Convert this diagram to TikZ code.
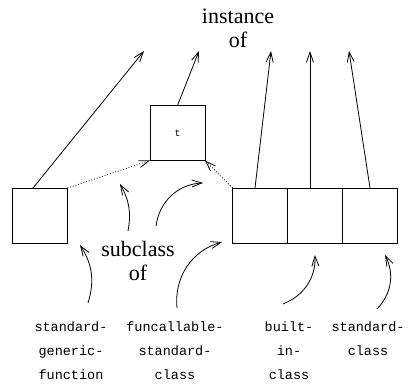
\documentclass[tikz,border=0pt]{standalone}
\usepackage{fontspec}
\setmainfont{Liberation Serif}
\setmonofont{Liberation Mono}
\usetikzlibrary{positioning,arrows.meta}

\begin{document}
\begin{tikzpicture}[%
			x=1pt, y=-1pt,
			line width=0.8pt,
			>={Straight Barb[length=10pt,width=7pt]},
			classbox/.style={%
				minimum width=55pt,
				minimum height=55pt,
				inner sep=0pt,
				outer sep=0pt,
				draw
			},
			big/.style={font=\fontsize{22}{24}\selectfont, align=center, anchor=base},
			cname/.style={font=\ttfamily\fontsize{13.5}{24}\selectfont, align=center, anchor=base}
			]
			\useasboundingbox (0,0) rectangle (409,385);

			% the classes
			\node[classbox] (gf) at (40,215.5) {};
			\node[classbox] (t) at (177.5,133) {\ttfamily\fontsize{10}{12}\selectfont t};
			\node[classbox] (fsc) at (260,215.5) {};
			\node[classbox, right=0pt of fsc] (bic) {};
			\node[classbox, right=0pt of bic] (sc) {};

			% base is the last line
			\node[big] (inst) at (238,48) {instance\\of};
			\node[big] (sub) at (138,280) {subclass\\of};

			\node[cname] (lgf) at (71,379) {standard-\\generic-\\function};
			\node[cname] (lfsc) at (175,379) {funcallable-\\standard-\\class};
			\node[cname] (lbic) at (289,379) {built-\\in-\\class};
			\node[cname] (lsc) at (368,355) {standard-\\class};

			% instance of
			\coordinate (i1) at (144,51);
			\coordinate (i2) at (199,51);
			\coordinate (i3) at (271,51);
			\coordinate (i4) at (310,51);
			\coordinate (i5) at (349,51);
			\draw[->] ([xshift=-7pt]gf.north) -- (i1);
			\draw[->] (t.north) -- (i2);
			\draw[->] ([xshift=-5pt]fsc.north) -- (i3);
			\draw[->] ([xshift=-5pt]bic.north) -- (i4);
			\draw[->] (sc.north) -- (i5);

			% subclass of
			\draw[->, dotted] (gf.north east) -- (t.south west);
			\draw[->, dotted] (fsc.north west) -- (t.south east);

			\coordinate (s1) at (88,303);   \coordinate (e1) at (80,245);
			\coordinate (s2) at (128,231);  \coordinate (e2) at (120,184);
			\coordinate (s3) at (156,226);  \coordinate (e3) at (203,183);
			\coordinate (s4) at (177,308);  \coordinate (e4) at (222,242);
			\coordinate (s5) at (283,304);  \coordinate (e5) at (315,255);
			\coordinate (s6) at (377,309);  \coordinate (e6) at (385,255);
			\draw[->] (s1) to[bend right=25] (e1);
			\draw[->] (s2) to[bend right=20] (e2);
			\draw[->] (s3) to[bend left=40] (e3);
			\draw[->] (s4) to[bend left=40] (e4);
			\draw[->] (s5) to[bend right=35] (e5);
			\draw[->] (s6) to[bend right=35] (e6);
 			\end{tikzpicture}
\end{document}
